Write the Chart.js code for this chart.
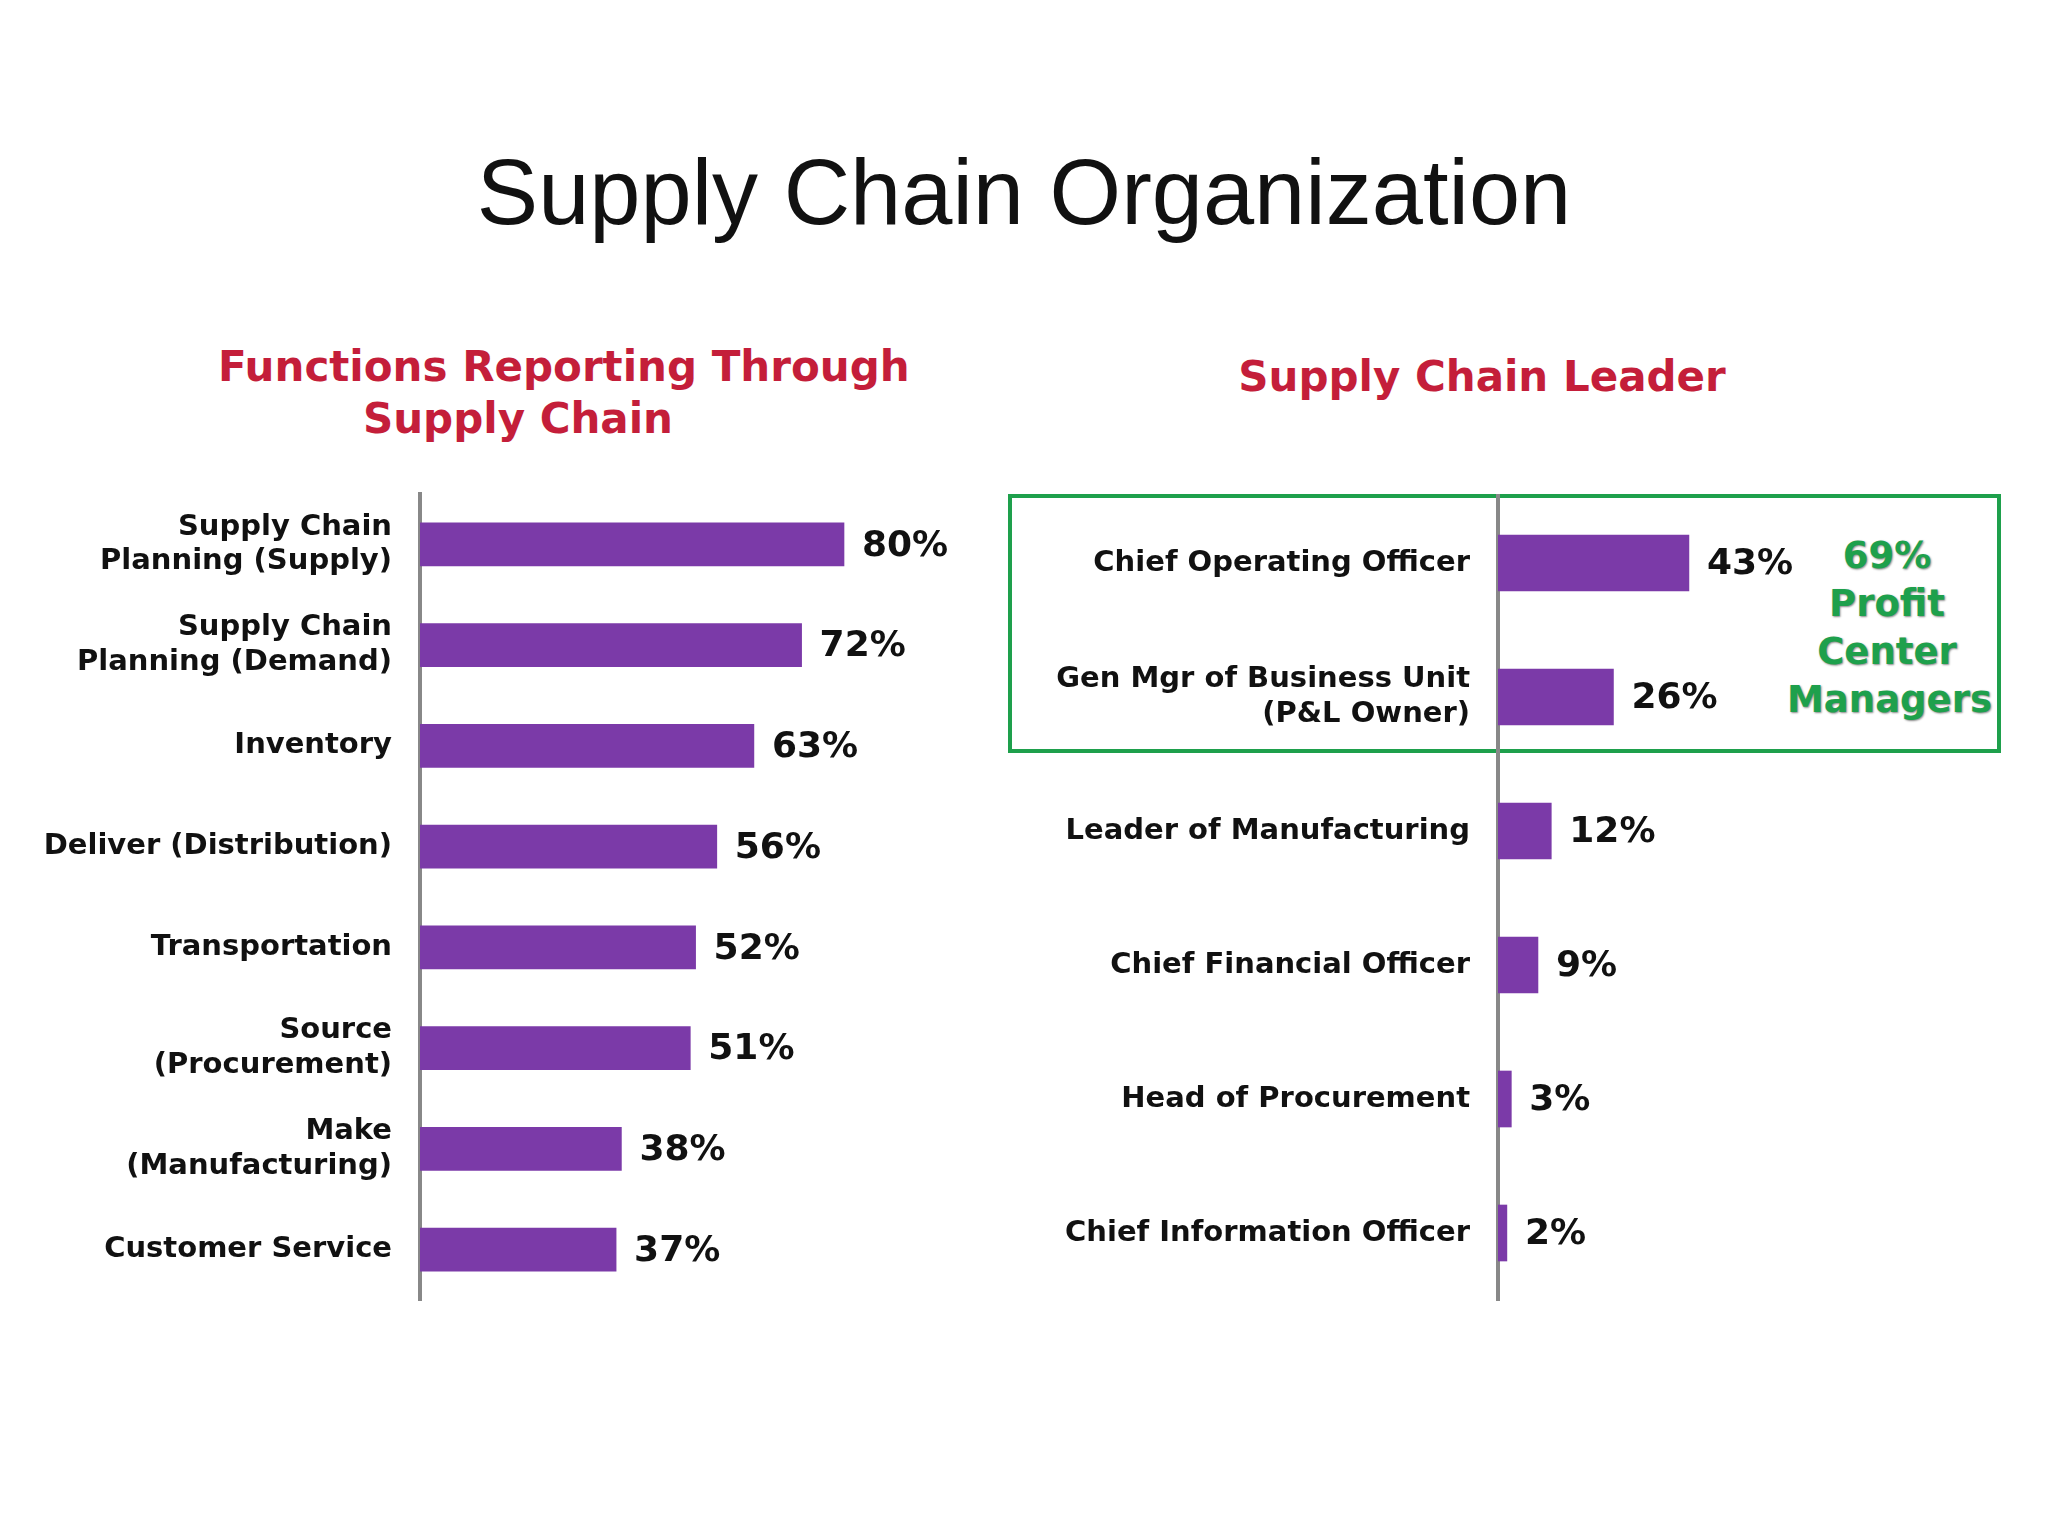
<!DOCTYPE html>
<html><head><meta charset="utf-8">
<script src="https://cdn.jsdelivr.net/npm/chart.js@4/dist/chart.umd.min.js"></script>
<style>
body{margin:0;width:2048px;height:1536px;background:#fff;position:relative;overflow:hidden;font-family:"Liberation Sans",Arial,sans-serif}
.t{position:absolute;text-align:center;white-space:nowrap}
#title{left:0;width:2048px;top:140px;font-size:92px;color:#111}
.sub{color:#c41e3a;font-weight:bold;font-size:42px;line-height:52px;font-family:"DejaVu Sans",sans-serif}
#box{position:absolute;left:1008px;top:494px;width:985px;height:251px;border:4px solid #1ea04c}
#green{left:1787px;width:200px;top:532px;color:#1ea04c;font-weight:bold;font-size:37px;line-height:48px;text-shadow:1px 1px 2px #888;font-family:"DejaVu Sans",sans-serif}
canvas{position:absolute}
</style></head><body>
<div class="t" id="title">Supply Chain Organization</div>
<div class="t sub" style="left:218px;width:600px;top:341px">Functions Reporting Through<br>Supply Chain</div>
<div class="t sub" style="left:1182px;width:600px;top:351px">Supply Chain Leader</div>
<div id="box"></div>
<div class="t" id="green">69%<br>Profit<br>Center<br>Managers</div>
<div style="position:absolute;left:0;top:0;width:1000px;height:1536px"><canvas id="c1"></canvas></div>
<div style="position:absolute;left:1000px;top:0;width:1048px;height:1536px"><canvas id="c2"></canvas></div>
<script>
const leftCategories=[["Supply Chain","Planning (Supply)"],["Supply Chain","Planning (Demand)"],"Inventory","Deliver (Distribution)","Transportation",["Source","(Procurement)"],["Make","(Manufacturing)"],"Customer Service"];
const leftValues=[80,72,63,56,52,51,38,37];
const rightCategories=["Chief Operating Officer",["Gen Mgr of Business Unit","(P&L Owner)"],"Leader of Manufacturing","Chief Financial Officer","Head of Procurement","Chief Information Officer"];
const rightValues=[43,26,12,9,3,2];

const valueLabels={id:'vl',afterDatasetsDraw(ch){const c=ch.ctx;const m=ch.getDatasetMeta(0);c.save();c.font='bold 36px "DejaVu Sans", sans-serif';c.fillStyle='#111';c.textBaseline='middle';
m.data.forEach((b,i)=>{c.fillText(ch.data.datasets[0].data[i]+'%',b.x+18,b.y+2);});c.restore();}};
function make(id,cats,vals,yw,top,bottom,thick,pr){
 const cv=document.getElementById(id);
 new Chart(cv,{type:'bar',data:{labels:cats,datasets:[{data:vals,backgroundColor:'#7b3aa8',barThickness:thick}]},
 options:{indexAxis:'y',responsive:true,maintainAspectRatio:false,animation:false,
 layout:{padding:{top:top,bottom:1536-bottom,right:pr,left:0}},
 plugins:{legend:{display:false},tooltip:{enabled:false}},
 scales:{x:{display:false,min:0,max:100,grid:{display:false}},
 y:{grid:{display:false,drawTicks:false},border:{color:'#888',width:4},
 ticks:{color:'#111',padding:28,font:{family:'"DejaVu Sans", sans-serif',weight:'bold',size:29},lineHeight:1.3},
 afterFit(s){s.width=yw;}}}},plugins:[valueLabels]});
}
make('c1',leftCategories,leftValues,420,494,1300,43,50);
make('c2',rightCategories,rightValues,498,496,1300,56,106);
</script></body></html>
